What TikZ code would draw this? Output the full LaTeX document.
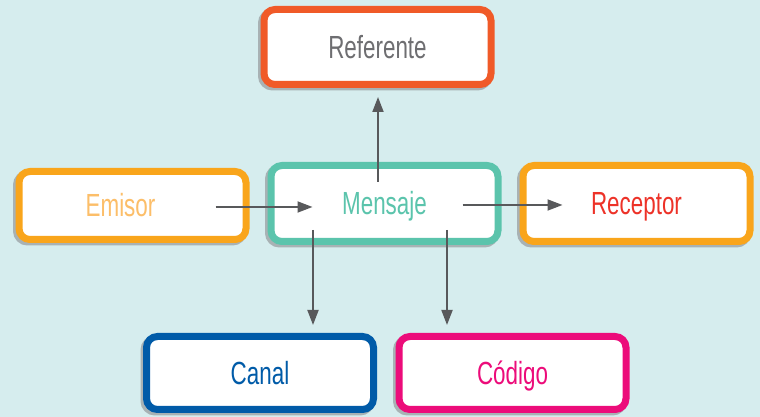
\documentclass[tikz,border=0pt]{standalone}
\usepackage{fontspec}
\setmainfont[FakeStretch=0.7]{Liberation Sans}
\usetikzlibrary{positioning,arrows.meta}

\definecolor{bgcyan}{RGB}{214,237,238}
\definecolor{refred}{RGB}{240,90,40}
\definecolor{refgrey}{RGB}{110,110,113}
\definecolor{ambar}{RGB}{249,165,27}
\definecolor{emisortxt}{RGB}{252,190,105}
\definecolor{msgteal}{RGB}{91,196,172}
\definecolor{rectxt}{RGB}{237,50,40}
\definecolor{canalblue}{RGB}{0,91,168}
\definecolor{codpink}{RGB}{236,12,122}
\definecolor{arrowgrey}{RGB}{88,89,91}
\definecolor{shade}{RGB}{168,178,180}

\begin{document}
\begin{tikzpicture}[%
    x=1pt, y=1pt,
    >={Triangle[length=15pt,width=11pt]}, % Filled heads
    node distance=74pt and 18pt,          % Global setup of box spacing
    ]
% -------------------------------------------------
% Box and connector styles
\tikzset{
  box/.style={draw=#1, fill=white, line width=7pt, rounded corners=11pt,
    minimum width=227pt, minimum height=75pt, inner sep=0pt,
    text height=23pt, text depth=0pt,
    font=\fontsize{32}{36}\selectfont,
    preaction={draw=shade, fill=shade,
      transform canvas={shift={(-2.5pt,-2.5pt)}}}},
  link/.style={->, draw=arrowgrey, line width=1.8pt}
}
% -------------------------------------------------
% Background
\useasboundingbox (0,0) rectangle (760,417);
\fill[bgcyan] (0,0) rectangle (760,417);
% Start by placing the nodes
\node [box=msgteal, text=msgteal, minimum height=76pt] (mensaje) at (384.5,213.5) {Mensaje};
\node [box=refred, text=refgrey, above=of mensaje, xshift=-7pt] (referente) {Referente};
\node [box=ambar, text=emisortxt, left=of mensaje, minimum height=68pt, yshift=-2pt] (emisor) {Emisor\hspace*{24pt}};
\node [box=ambar, text=rectxt, right=of mensaje, minimum height=76pt] (receptor) {Receptor};
\node [box=canalblue, text=canalblue, below=88pt of mensaje, xshift=-124.5pt, minimum height=73pt] (canal) {Canal};
\node [box=codpink, text=codpink, below=88pt of mensaje, xshift=128pt, minimum height=73pt] (codigo) {Código};

% Connectors
\draw[link] ([xshift=-34pt,yshift=-1.5pt]emisor.east) -- ([xshift=45pt,yshift=-3.5pt]mensaje.west);      %Emisor,Mensaje
\draw[link] ([xshift=-39pt,yshift=-1.5pt]mensaje.east) -- ([xshift=43pt,yshift=-1.5pt]receptor.west);     %Mensaje,Receptor
\draw[link] ([xshift=-6.5pt,yshift=-20pt]mensaje.north) -- ([xshift=0.5pt,yshift=-9pt]referente.south);  %Mensaje,Referente
\draw[link] ([xshift=-71.5pt,yshift=15pt]mensaje.south) -- ([xshift=53pt,yshift=8pt]canal.north);         %Mensaje,Canal
\draw[link] ([xshift=62.5pt,yshift=15pt]mensaje.south) -- ([xshift=-65.5pt,yshift=8pt]codigo.north);      %Mensaje,Codigo

% -------------------------------------------------
\end{tikzpicture}
\end{document}
